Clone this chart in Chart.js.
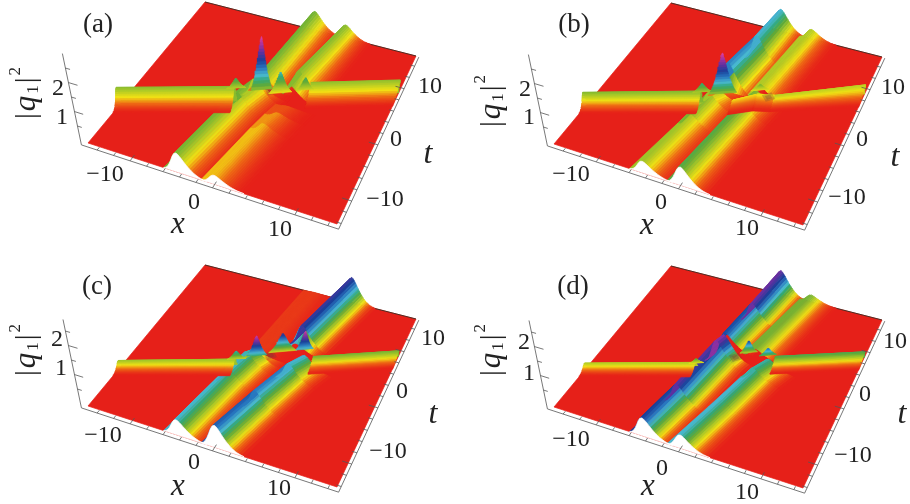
<!DOCTYPE html>
<html>
<head>
<meta charset="utf-8">
<script src="https://cdn.jsdelivr.net/npm/chart.js@4"></script>
<style>
    html, body { margin: 0; padding: 0; background: #fff; }
    #page { position: relative; width: 910px; height: 504px; overflow: hidden; }
    canvas { position: absolute; filter: blur(0.35px); }
</style>
</head>
<body>
<div id="page"></div>
<script>
// tick values
const xTicks = [-10, 0, 10];
const tTicks = [-10, 0, 10];
const zTicks = [1, 2];
const xMinorTicks = [-14, -12, -8, -6, -4, -2, 2, 4, 6, 8, 12, 14];
const tMinorTicks = [-14, -12, -8, -6, -4, -2, 2, 4, 6, 8, 12, 14];
const zMinorTicks = [0.5, 1.5, 2.5];

// cross section of a soliton: offset from crest, share of crest height
const crossOffsets = [-1.6, -1.3, -1.05, -0.85, -0.65, -0.45, -0.25, 0, 0.2, 0.4, 0.6, 0.8, 1, 1.2, 1.4, 1.6, 1.8, 2, 2.2, 2.4, 2.6, 2.8, 3, 3.3, 3.6];
const crossHeights = [0, 0.06, 0.18, 0.34, 0.55, 0.78, 0.94, 1, 0.96, 0.88, 0.79, 0.69, 0.6, 0.51, 0.43, 0.36, 0.29, 0.23, 0.18, 0.14, 0.1, 0.07, 0.05, 0.02, 0];

// shape of the sharp peaks at the collision: share of height, half width
const peakLevels = [0, 0.06, 0.12, 0.18, 0.24, 0.3, 0.36, 0.42, 0.48, 0.54, 0.6, 0.66, 0.72, 0.78, 0.84, 0.9, 0.95, 1];
const peakWidths = [1.1, 0.98, 0.87, 0.78, 0.7, 0.63, 0.56, 0.5, 0.45, 0.4, 0.35, 0.3, 0.26, 0.21, 0.16, 0.11, 0.07, 0.02];

// colour scale, share of panel maximum
const colourStops = [0, 0.07, 0.14, 0.22, 0.3, 0.38, 0.45, 0.55, 0.66, 0.78, 0.88, 1];
const colourValues = ['#e62019', '#ee6a14', '#f2e214', '#a8c828', '#60aa38', '#30a878', '#48b8d0', '#2878c0', '#1a3f9a', '#6030a0', '#a030a0', '#e040a0'];

// solitons, nodes are [x, t, |q1|^2]
const aFront1 = [[-4.3, -15, 0.65], [-2.2, -2, 0.72], [-1.3, 1, 0.7], [-1, 2, 0.35], [-0.8, 3, 0]];
const aFront2 = [[0.2, -15, 0.3], [1.9, -4, 0.3], [2.5, -1, 0.18], [3, 1, 0.05]];
const aBack1 = [[-1.1, 1.5, 0.2], [-0.9, 2.5, 0.7], [0.6, 15, 0.7]];
const aBack2 = [[2.7, 2.5, 0.5], [3.2, 4, 0.8], [4.9, 15, 0.48]];
const aLeft = [[-15, -6.9, 0.62], [-3, -1, 0.65]];
const aRight = [[5, 3.4, 0.62], [15, 7.7, 0.62]];
const aPeaks = [[-3, -0.5, 0.5, 0.85, 0.9], [0, 0, 0.6, 2.5, 1], [1.8, 1.5, 0.35, 1.1, 1.1], [4.5, 2.7, 0.45, 0.88, 0.85]];
const aDips = [[0, 3]];

const bFront1 = [[-4.3, -15, 0.4], [-2.6, -5, 0.48], [-1.9, -1, 0.55], [-1.4, 1, 0.3], [-1, 2.5, 0]];
const bFront2 = [[0.2, -15, 0.62], [2.3, -1, 0.58], [2.9, 2, 0.45]];
const bBack1 = [[-1.1, 1.5, 0.3], [-0.9, 2.5, 1.1], [0, 9, 0.95], [0.6, 15, 0.82]];
const bBack2 = [[3, 3, 0.45], [4.9, 15, 0.35]];
const bLeft = [[-15, -6.9, 0.48], [-3, -1, 0.52]];
const bRight = [[0.5, 0.4, 0.22], [3, 2.2, 0.3], [5, 2.9, 0.28], [15, 7.7, 0.48]];
const bPeaks = [[-3, -0.5, 0.4, 0.7, 0.9], [-0.6, 0, 0.45, 1.9, 1.3], [3, 3, 0.3, 0.5, 0.9]];
const bDips = [[3.9, 3.6]];

const cFront1 = [[-4.3, -15, 0.52], [-2.5, -4, 0.56], [-1.7, -0.5, 0.58], [-1.2, 1, 0.45], [-0.9, 2, 0.1]];
const cFront2 = [[0.2, -15, 0.75], [2, -7, 0.7], [3.7, -0.6, 0.62], [4.7, 2, 0.5]];
const cBack1 = [[-1.2, 1, 0.04], [0.6, 15, 0.02]];
const cBack2 = [[2.6, 4.5, 0.3], [3, 5.5, 0.8], [5.6, 15, 0.92]];
const cLeft = [[-15, -6.9, 0.26], [-3, -1, 0.3]];
const cRight = [[5.5, 3, 0.33], [15, 7.7, 0.33]];
const cPeaks = [[-3, -0.5, 0.22, 0.5, 0.9], [-0.6, 0, 0.45, 1.15, 0.95], [1.5, 3, 0.2, 0.85, 1.35], [4.3, 3, 0.5, 1.15, 0.85]];
const cDips = [[0, 2.7]];

const dFront1 = [[-4.3, -15, 0.62], [-3, -8, 0.7], [-1.6, 0.5, 0.85], [-1.2, 1.8, 0.85]];
const dFront2 = [[0.2, -15, 0.45], [2, -7, 0.45], [3.5, -0.5, 0.45], [4.5, 2, 0.38]];
const dBack1 = [[-1.8, 3.6, 0.55], [-0.6, 9, 0.72], [0.6, 15, 0.88]];
const dBack2 = [[2.2, 3.5, 0.3], [4.9, 15, 0.25]];
const dLeft = [[-15, -6.9, 0.2], [-3.6, -1.3, 0.22]];
const dRight = [[5, 3, 0.33], [15, 7.7, 0.33]];
const dPeaks = [[-3.6, -1, 0.15, 0.3, 0.7], [1.5, 3, 0.2, 0.62, 0.85], [4, 3, 0.3, 0.55, 0.85]];
const dDips = [[0, 2.5]];

// floor corners of a panel in its own canvas, left, bottom, right, top
const floorLeft = [88, 143];
const floorBottom = [337, 224];
const floorRight = [416, 56];
const floorTop = [205, 2];
const zPixels = 29;
const zLean = 5.7;

const panels = [
    { name: '(a)', left: 0, top: 0, dx: 0, dy: 0, zMax: 2.5, zTop: 3, front1: aFront1, front2: aFront2, back1: aBack1, back2: aBack2, leftArm: aLeft, rightArm: aRight, peaks: aPeaks, dips: aDips,
      xLab: [[105, 175], [194, 203], [280, 230]], tLab: [[385, 200], [396, 140], [430, 87]], zLab: [[62, 118], [58, 89]], xName: [178, 225], tName: [428, 155], qName: [27, 92], title: [98, 25] },
    { name: '(b)', left: 455, top: 0, dx: 11, dy: 1, zMax: 1.9, zTop: 3, front1: bFront1, front2: bFront2, back1: bBack1, back2: bBack2, leftArm: bLeft, rightArm: bRight, peaks: bPeaks, dips: bDips,
      xLab: [[116, 175], [206, 203], [292, 229]], tLab: [[392, 198], [407, 140], [438, 88]], zLab: [[74, 118], [70, 90]], xName: [192, 226], tName: [440, 158], qName: [37, 100], title: [119, 25] },
    { name: '(c)', left: 0, top: 252, dx: 0, dy: 11, zMax: 1.2, zTop: 2.9, front1: cFront1, front2: cFront2, back1: cBack1, back2: cBack2, leftArm: cLeft, rightArm: cRight, peaks: cPeaks, dips: cDips,
      xLab: [[103, 184], [194, 211], [279, 237]], tLab: [[388, 200], [402, 140], [433, 87]], zLab: [[61, 117], [57, 88]], xName: [178, 235], tName: [433, 163], qName: [27, 97], title: [97, 35] },
    { name: '(d)', left: 455, top: 252, dx: 11, dy: 12, zMax: 1.0, zTop: 2.9, front1: dFront1, front2: dFront2, back1: dBack1, back2: dBack2, leftArm: dLeft, rightArm: dRight, peaks: dPeaks, dips: dDips,
      xLab: [[116, 188], [207, 217], [292, 241]], tLab: [[398, 204], [410, 143], [440, 90]], zLab: [[74, 122], [69, 91]], xName: [193, 235], tName: [447, 163], qName: [37, 97], title: [118, 35] }
];

function project(panel, x, t, z) {
    const u = (x + 15) / 30;
    const v = (t + 15) / 30;
    const twist = [floorRight[0] - floorTop[0] - floorBottom[0] + floorLeft[0], floorRight[1] - floorTop[1] - floorBottom[1] + floorLeft[1]];
    const px = floorLeft[0] + u * (floorBottom[0] - floorLeft[0]) + v * (floorTop[0] - floorLeft[0]) + u * v * twist[0];
    const py = floorLeft[1] + u * (floorBottom[1] - floorLeft[1]) + v * (floorTop[1] - floorLeft[1]) + u * v * twist[1];
    return {
        x: px + panel.dx + z * zLean * (2 * u - 1),
        y: py + panel.dy - z * zPixels * (1 - 0.08 * v)
    };
}

function colourFor(share) {
    const s = Math.max(0, Math.min(1, share));
    let i = 0;
    while (i < colourStops.length - 2 && s > colourStops[i + 1]) i++;
    const f = (s - colourStops[i]) / (colourStops[i + 1] - colourStops[i]);
    const a = parseInt(colourValues[i].slice(1), 16);
    const b = parseInt(colourValues[i + 1].slice(1), 16);
    const mix = shift => Math.round(((a >> shift) & 255) * (1 - f) + ((b >> shift) & 255) * f);
    return `rgb(${mix(16)},${mix(8)},${mix(0)})`;
}

function polygon(points, colour) {
    return {
        data: points.concat([points[0]]),
        showLine: true,
        fill: 'shape',
        backgroundColor: colour,
        borderColor: colour,
        borderWidth: 0.7,
        pointRadius: 0,
        tension: 0,
        clip: false
    };
}

function strokes(points, colour, width) {
    return {
        data: points,
        showLine: true,
        fill: false,
        borderColor: colour,
        borderWidth: width,
        pointRadius: 0,
        tension: 0,
        spanGaps: false,
        clip: false
    };
}

// far slope of a ridge takes the crest colour, it is nearly edge-on anyway
function stripShare(k, zMean) {
    const share = crossOffsets[k] < 0 ? 1 : (crossHeights[k] + crossHeights[k + 1]) / 2;
    return share * zMean;
}

// one long strip per step of the cross section, drawn from far side to near side
function ridgeAlongT(panel, nodes, out) {
    for (let n = 0; n < nodes.length - 1; n++) {
        const a = nodes[n];
        const b = nodes[n + 1];
        for (let k = 0; k < crossOffsets.length - 1; k++) {
            out.push(polygon([
                project(panel, a[0] + crossOffsets[k], a[1], a[2] * crossHeights[k]),
                project(panel, a[0] + crossOffsets[k + 1], a[1], a[2] * crossHeights[k + 1]),
                project(panel, b[0] + crossOffsets[k + 1], b[1], b[2] * crossHeights[k + 1]),
                project(panel, b[0] + crossOffsets[k], b[1], b[2] * crossHeights[k])
            ], colourFor(stripShare(k, (a[2] + b[2]) / 2) / panel.zMax)));
        }
    }
}

function ridgeAlongX(panel, nodes, out) {
    const narrow = 0.45;
    for (let n = 0; n < nodes.length - 1; n++) {
        const a = nodes[n];
        const b = nodes[n + 1];
        for (let k = 0; k < crossOffsets.length - 1; k++) {
            out.push(polygon([
                project(panel, a[0], a[1] - narrow * crossOffsets[k], a[2] * crossHeights[k]),
                project(panel, a[0], a[1] - narrow * crossOffsets[k + 1], a[2] * crossHeights[k + 1]),
                project(panel, b[0], b[1] - narrow * crossOffsets[k + 1], b[2] * crossHeights[k + 1]),
                project(panel, b[0], b[1] - narrow * crossOffsets[k], b[2] * crossHeights[k])
            ], colourFor(stripShare(k, (a[2] + b[2]) / 2) / panel.zMax)));
        }
    }
}

function peak(panel, p, out) {
    const [x, t, base, top, w] = p;
    const sideT = 0.574;
    for (let k = 0; k < peakLevels.length - 1; k++) {
        const z0 = base + (top - base) * peakLevels[k];
        const z1 = base + (top - base) * peakLevels[k + 1];
        const w0 = peakWidths[k] * w;
        const w1 = peakWidths[k + 1] * w;
        out.push(polygon([
            project(panel, x - w0, t - w0 * sideT, z0),
            project(panel, x + w0, t + w0 * sideT, z0),
            project(panel, x + w1, t + w1 * sideT, z1),
            project(panel, x - w1, t - w1 * sideT, z1)
        ], colourFor((z0 + z1) / 2 / panel.zMax)));
    }
}

// dark smudge in the hollow behind the collision
function dip(panel, d, out) {
    [0.9, 0.5].forEach(r => {
        const ds = polygon([
            project(panel, d[0] - r, d[1], 0), project(panel, d[0], d[1] - r, 0),
            project(panel, d[0] + r, d[1], 0), project(panel, d[0], d[1] + r, 0)
        ], 'rgba(110,50,60,0.28)');
        ds.borderWidth = 0;
        out.push(ds);
    });
}

// the sheet lifts off at its near edge, so there is a white gap under each hump
function notch(panel, node, out) {
    const pts = crossOffsets.map((s, k) => project(panel, node[0] + s, node[1], node[2] * crossHeights[k]));
    out.push(polygon(pts, '#ffffff'));
}

function axisLines(panel) {
    const pts = [];
    const gap = { x: NaN, y: NaN };
    const low = -0.15;
    const xA = -15.9, xB = 15.3, tA = -15, tB = 15.6;
    pts.push(project(panel, xA, tA, low), project(panel, xB, tA, low), project(panel, xB, tB, low), gap);
    pts.push(project(panel, xA, tA, low), project(panel, xA, tA, panel.zTop), gap);
    const xMark = (x, len) => pts.push(project(panel, x, tA, low), project(panel, x, tA + len, low), gap);
    const tMark = (t, len) => pts.push(project(panel, xB, t, low), project(panel, xB - len, t, low), gap);
    const zMark = (z, len) => pts.push(project(panel, xA, tA, z), project(panel, xA + len, tA, z), gap);
    xTicks.forEach(v => xMark(v, 1.2));
    xMinorTicks.forEach(v => xMark(v, 0.6));
    tTicks.forEach(v => tMark(v, 1.2));
    tMinorTicks.forEach(v => tMark(v, 0.6));
    zTicks.forEach(v => zMark(v, 1));
    zMinorTicks.forEach(v => zMark(v, 0.5));
    return strokes(pts, '#555555', 0.8);
}

function buildDatasets(panel) {
    const out = [];
    out.push(polygon([
        project(panel, -15, -15, 0), project(panel, 15, -15, 0),
        project(panel, 15, 15, 0), project(panel, -15, 15, 0)
    ], colourValues[0]));
    out.push(strokes([project(panel, -15, 15, 0), project(panel, 15, 15, 0)], '#3a2a20', 0.9));
    ridgeAlongT(panel, panel.back1, out);
    ridgeAlongT(panel, panel.back2, out);
    ridgeAlongT(panel, panel.front1, out);
    ridgeAlongT(panel, panel.front2, out);
    ridgeAlongX(panel, panel.leftArm, out);
    ridgeAlongX(panel, panel.rightArm, out);
    panel.dips.forEach(d => dip(panel, d, out));
    panel.peaks.forEach(p => peak(panel, p, out));
    notch(panel, panel.front1[0], out);
    notch(panel, panel.front2[0], out);
    out.push(axisLines(panel));
    // later datasets have to land on top
    out.forEach((d, i) => { d.order = -i; });
    return out;
}

const labelPlugin = {
    id: 'panelLabels',
    afterDraw(chart) {
        const panel = chart.config.options.plugins.panelLabels.panel;
        const ctx = chart.ctx;
        const sx = chart.scales.x;
        const sy = chart.scales.y;
        const put = (text, pos, font) => {
            ctx.font = font;
            ctx.fillText(text, sx.getPixelForValue(pos[0]), sy.getPixelForValue(pos[1]));
        };
        const serif = '"Liberation Serif", serif';
        ctx.save();
        ctx.fillStyle = '#222';
        ctx.textAlign = 'center';
        ctx.textBaseline = 'middle';
        xTicks.forEach((v, i) => put(String(v).replace('-', '\u2212'), panel.xLab[i], `24px ${serif}`));
        tTicks.forEach((v, i) => put(String(v).replace('-', '\u2212'), panel.tLab[i], `24px ${serif}`));
        zTicks.forEach((v, i) => put(String(v), panel.zLab[i], `24px ${serif}`));
        put('x', panel.xName, `italic 31px ${serif}`);
        put('t', panel.tName, `italic 32px ${serif}`);
        put(panel.name, panel.title, `27px ${serif}`);

        // |q1|^2 turned on its side
        const parts = [
            ['|', `29px ${serif}`, 0], ['q', `italic 31px ${serif}`, 0], ['1', `17px ${serif}`, 7],
            ['|', `29px ${serif}`, 0], ['2', `17px ${serif}`, -11]
        ];
        let width = 0;
        parts.forEach(p => { ctx.font = p[1]; width += ctx.measureText(p[0]).width + 2; });
        ctx.translate(sx.getPixelForValue(panel.qName[0]), sy.getPixelForValue(panel.qName[1]));
        ctx.rotate(-Math.PI / 2);
        ctx.textAlign = 'left';
        let at = -width / 2;
        parts.forEach(p => {
            ctx.font = p[1];
            ctx.fillText(p[0], at, p[2]);
            at += ctx.measureText(p[0]).width + 2;
        });
        ctx.restore();
    }
};

const page = document.getElementById('page');
panels.forEach(panel => {
    const canvas = document.createElement('canvas');
    canvas.width = 455;
    canvas.height = 252;
    canvas.style.left = panel.left + 'px';
    canvas.style.top = panel.top + 'px';
    canvas.style.width = '455px';
    canvas.style.height = '252px';
    page.appendChild(canvas);
    new Chart(canvas.getContext('2d'), {
        type: 'scatter',
        data: { datasets: buildDatasets(panel) },
        plugins: [labelPlugin],
        options: {
            responsive: false,
            animation: false,
            events: [],
            layout: { padding: 0 },
            plugins: {
                legend: { display: false },
                tooltip: { enabled: false },
                panelLabels: { panel: panel }
            },
            scales: {
                x: { type: 'linear', display: false, min: 0, max: 455 },
                y: { type: 'linear', display: false, min: 0, max: 252, reverse: true }
            }
        }
    });
});
</script>
</body>
</html>
